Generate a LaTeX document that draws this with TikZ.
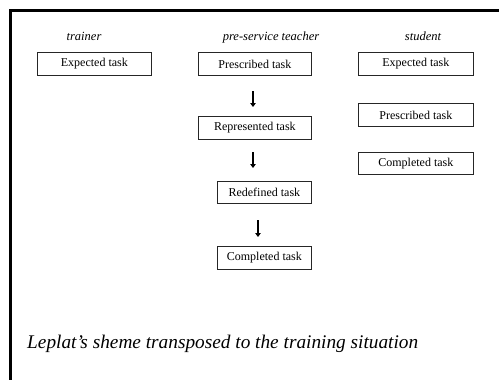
\documentclass[tikz,border=0pt]{standalone}
\usepackage{fontspec}
\setmainfont{Liberation Serif}
\usetikzlibrary{arrows.meta}
\begin{document}
\begin{tikzpicture}[x=1pt,y=-1pt,
  taskbox/.style={draw=black!85,line width=0.8pt,inner sep=0pt,font=\fontsize{12}{14}\selectfont,anchor=north west},
  colhead/.style={font=\fontsize{12.5}{14}\selectfont\itshape,anchor=base,inner sep=0pt},
  flow/.style={line width=2pt,-{Triangle[length=4pt,width=5.5pt]}},
  frame/.style={line width=3pt}]
\useasboundingbox (0,0) rectangle (499,380);
\draw[frame] (499,10.5) -- (10.5,10.5) -- (10.5,380);
\node[colhead] (h1) at (84,40) {trainer};
\node[colhead] (h2) at (271,40) {pre-service teacher};
\node[colhead] (h3) at (423,40) {student};
\node[taskbox,minimum width=114pt,minimum height=23pt] (t1) at (37,52) {Expected task};
\node[taskbox,minimum width=113pt,minimum height=23pt] (p1) at (198,52) {Prescribed task};
\node[taskbox,minimum width=113pt,minimum height=23pt] (p2) at (198,116) {Represented task};
\node[taskbox,minimum width=94pt,minimum height=22pt] (p3) at (217,181) {Redefined task};
\node[taskbox,minimum width=94pt,minimum height=23pt] (p4) at (217,246) {Completed task};
\node[taskbox,minimum width=115pt,minimum height=23pt] (s1) at (358,52) {Expected task};
\node[taskbox,minimum width=115pt,minimum height=23pt] (s2) at (358,103) {Prescribed task};
\node[taskbox,minimum width=115pt,minimum height=22pt] (s3) at (358,152) {Completed task};
\coordinate (a1s) at (253,91); \coordinate (a1e) at (253,107);
\coordinate (a2s) at (253,152); \coordinate (a2e) at (253,168);
\coordinate (a3s) at (258,220); \coordinate (a3e) at (258,237);
\draw[flow] (a1s) -- (a1e);
\draw[flow] (a2s) -- (a2e);
\draw[flow] (a3s) -- (a3e);
\node[anchor=base west,inner sep=0pt,font=\fontsize{19.3}{23}\selectfont\itshape] (cap) at (27,348) {Leplat’s sheme transposed to the training situation};
\end{tikzpicture}
\end{document}
